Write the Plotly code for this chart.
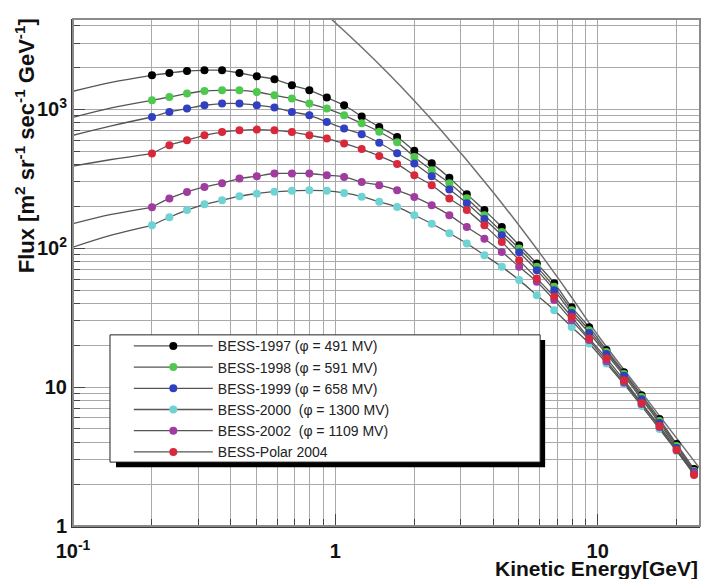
import plotly.graph_objects as go

# ---------------- data ----------------
energy = [0.20, 0.233, 0.272, 0.317, 0.370, 0.431, 0.502, 0.586, 0.683, 0.796,
          0.928, 1.08, 1.26, 1.47, 1.72, 2.00, 2.33, 2.72, 3.17, 3.70,
          4.31, 5.02, 5.86, 6.83, 7.96, 9.28, 10.8, 12.6, 14.7, 17.2, 20.0, 23.3]

flux_1997 = [1757, 1825, 1887, 1908, 1908, 1825, 1729, 1644, 1488, 1370,
             1214, 1069, 888, 746, 632, 502, 408, 322, 245, 188,
             142, 105, 77.6, 56.0, 37.6, 27.0, 18.5, 12.8, 8.75, 5.89, 3.89, 2.57]
flux_1998 = [1161, 1226, 1297, 1354, 1370, 1370, 1332, 1261, 1194, 1100,
             1012, 905, 793, 689, 578, 454, 364, 294, 229, 173,
             131, 99.4, 73.4, 52.7, 35.8, 25.7, 17.9, 12.45, 8.48, 5.69, 3.77, 2.49]
flux_1999 = [880, 957, 1012, 1069, 1100, 1100, 1069, 1029, 957, 905,
             810, 726, 661, 574, 482, 407, 329, 265, 211, 162,
             124, 93.5, 69.5, 49.9, 34.1, 24.5, 17.3, 12.05, 8.19, 5.51, 3.64, 2.45]
flux_2000 = [146, 167, 188, 207, 221, 237, 247, 255, 259, 261,
             259, 250, 235, 216, 198, 173, 150, 128, 108, 89.0,
             73.4, 58.9, 45.9, 35.8, 27.1, 20.6, 14.8, 10.5, 7.30, 4.99, 3.46, 2.37]
flux_2002 = [197, 228, 254, 276, 294, 317, 330, 345, 345, 345,
             335, 326, 299, 284, 261, 234, 204, 173, 142, 117,
             94.0, 73.4, 57.3, 42.3, 30.3, 21.8, 15.35, 10.8, 7.55, 5.16, 3.52, 2.41]
flux_2004 = [480, 551, 598, 650, 686, 706, 714, 706, 686, 650,
             615, 567, 517, 461, 403, 335, 284, 228, 188, 146,
             111, 82.0, 60.6, 44.7, 32.0, 22.4, 16.1, 11.2, 7.67, 5.24, 3.52, 2.33]

# low-energy continuation of the fitted curves (read at 0.10 and 0.14 GeV)
fit_energy = [0.10, 0.14]
fit_1997 = [1348, 1564]
fit_1998 = [875, 1025]
fit_1999 = [650, 760]
fit_2000 = [101.6, 124]
fit_2002 = [150, 175]
fit_2004 = [390, 435]

# local interstellar spectrum curve
lis_energy = [0.794, 1.0, 1.585, 2.51, 3.98, 6.31, 7.94, 10.0, 15.85, 24.5]
lis_flux = [6120, 4200, 1826, 718, 255, 81.7, 44.5, 23.7, 7.6, 2.6]

names = ["BESS-1997 (φ = 491 MV)", "BESS-1998 (φ = 591 MV)", "BESS-1999 (φ = 658 MV)",
         "BESS-2000  (φ = 1300 MV)", "BESS-2002  (φ = 1109 MV)", "BESS-Polar 2004"]
colors = ["#000000", "#4ec94e", "#3040c0", "#6fd3d3", "#a03ca0", "#d8283c"]
series = [flux_1997, flux_1998, flux_1999, flux_2000, flux_2002, flux_2004]
fits = [fit_1997, fit_1998, fit_1999, fit_2000, fit_2002, fit_2004]

x_major = [0.1, 1, 10]
x_major_text = ["10<sup>-1</sup>", "1", "10"]
x_minor = [0.2, 0.3, 0.4, 0.5, 0.6, 0.7, 0.8, 0.9, 2, 3, 4, 5, 6, 7, 8, 9, 20]
y_major = [1, 10, 100, 1000]
y_major_text = ["1", "10", "10<sup>2</sup>", "10<sup>3</sup>"]
y_minor = [2, 3, 4, 5, 6, 7, 8, 9, 20, 30, 40, 50, 60, 70, 80, 90,
           200, 300, 400, 500, 600, 700, 800, 900, 2000, 3000, 4000]

# ---------------- figure ----------------
fig = go.Figure()

fit_color = "#555555"
fig.add_trace(go.Scatter(x=lis_energy, y=lis_flux, mode="lines",
                         line=dict(color="#707070", width=1.5, shape="spline"),
                         showlegend=False, hoverinfo="skip"))

for name, col, ys, fy in zip(names, colors, series, fits):
    fig.add_trace(go.Scatter(x=fit_energy + energy[:1], y=fy + ys[:1], mode="lines",
                             line=dict(color=fit_color, width=1.3, shape="spline"),
                             showlegend=False, hoverinfo="skip"))
    fig.add_trace(go.Scatter(x=energy, y=ys, mode="lines+markers", name=name,
                             line=dict(color=fit_color, width=1.3, shape="spline"),
                             marker=dict(color=col, size=8, symbol="circle")))

grid_col = "#a9a9a9"
fig.update_xaxes(type="log", range=[-1, 1.39],
                 tickvals=x_major, ticktext=x_major_text,
                 ticks="inside", ticklen=12, tickcolor="#444",
                 showgrid=True, gridcolor=grid_col, gridwidth=1,
                 minor=dict(tickvals=x_minor, ticks="inside", ticklen=7, tickcolor="#444",
                            showgrid=True, gridcolor=grid_col, gridwidth=1),
                 showline=True, linecolor="#3a3a3a", linewidth=2,
                 tickfont=dict(family="Liberation Sans", size=20, color="#111", weight="bold"),
                 ticklabelstandoff=6, zeroline=False)
fig.update_yaxes(type="log", range=[0, 3.65],
                 tickvals=y_major, ticktext=y_major_text,
                 ticks="inside", ticklen=12, tickcolor="#444",
                 showgrid=True, gridcolor=grid_col, gridwidth=1,
                 minor=dict(tickvals=y_minor, ticks="inside", ticklen=7, tickcolor="#444",
                            showgrid=True, gridcolor=grid_col, gridwidth=1),
                 showline=True, linecolor="#3a3a3a", linewidth=2,
                 tickfont=dict(family="Liberation Sans", size=20, color="#111", weight="bold"),
                 zeroline=False)

shapes = [
    # frame (top/right)
    dict(type="rect", xref="paper", yref="paper", x0=0, x1=1, y0=0, y1=1,
         line=dict(color="#8a8a8a", width=2), layer="above"),
    # legend shadow
    dict(type="rect", xref="paper", yref="paper", x0=0.0686, x1=0.753, y0=0.116, y1=0.367,
         fillcolor="#000000", line=dict(width=0), layer="above"),
    # legend box
    dict(type="rect", xref="paper", yref="paper", x0=0.059, x1=0.745, y0=0.126, y1=0.377,
         fillcolor="white", line=dict(color="#222", width=1), layer="above"),
]

annotations = [
    dict(text="Kinetic Energy[GeV]", xref="paper", yref="paper", x=1.0, y=-0.083,
         xanchor="right", yanchor="middle", showarrow=False,
         font=dict(family="Liberation Sans", size=21, color="#111", weight="bold")),
    dict(text="Flux [m<sup>2</sup> sr<sup>-1</sup> sec<sup>-1</sup> GeV<sup>-1</sup>]",
         xref="paper", yref="paper", x=-0.0766, y=0.751, textangle=-90,
         xanchor="center", yanchor="middle", showarrow=False,
         font=dict(family="Liberation Sans", size=22, color="#111", weight="bold")),
]

fig.update_layout(
    width=702, height=579,
    margin=dict(l=73, r=2, t=19, b=53),
    paper_bgcolor="white", plot_bgcolor="white",
    shapes=shapes, annotations=annotations,
    showlegend=True,
    legend=dict(x=0.089, y=0.386, xanchor="left", yanchor="top",
                bgcolor="rgba(0,0,0,0)", borderwidth=0, itemwidth=79,
                font=dict(family="Liberation Sans", size=14, color="#222"),
                tracegroupgap=0),
)

fig.write_html("out.html")
